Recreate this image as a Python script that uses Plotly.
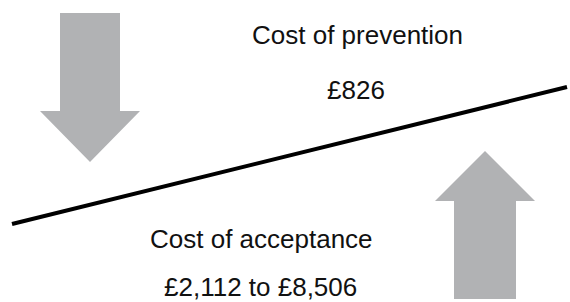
import plotly.graph_objects as go

# Diagram geometry (pixel-space coordinates, y downward)
down_arrow_x = [60, 120, 120, 140, 90, 40, 60, 60]
down_arrow_y = [13, 13, 111, 111, 162, 111, 111, 13]
up_arrow_x = [454, 516, 516, 535, 485, 435, 454, 454]
up_arrow_y = [299, 299, 201, 201, 151, 201, 201, 299]
balance_x = [12, 567]
balance_y = [224, 87]

labels = ["Cost of prevention", "£826", "Cost of acceptance", "£2,112 to £8,506"]
label_x = [357, 356, 261, 260]
label_y = [35, 90, 239, 287]

arrow_color = "#b1b2b4"

fig = go.Figure()
for xs, ys in [(down_arrow_x, down_arrow_y), (up_arrow_x, up_arrow_y)]:
    fig.add_trace(go.Scatter(x=xs, y=ys, mode="lines", fill="toself",
                             fillcolor=arrow_color, line=dict(width=0, color=arrow_color),
                             hoverinfo="skip", showlegend=False))
fig.add_trace(go.Scatter(x=balance_x, y=balance_y, mode="lines",
                         line=dict(color="black", width=4), hoverinfo="skip",
                         showlegend=False))
for t, x, y in zip(labels, label_x, label_y):
    fig.add_annotation(x=x, y=y, text=t, showarrow=False, xanchor="center",
                       yanchor="middle", font=dict(family="Liberation Sans, Arial", size=26, color="#111"))

fig.update_layout(width=570, height=302, margin=dict(l=0, r=0, t=0, b=0),
                  paper_bgcolor="white", plot_bgcolor="white",
                  xaxis=dict(range=[0, 570], visible=False, fixedrange=True),
                  yaxis=dict(range=[302, 0], visible=False, fixedrange=True))
fig.write_html("out.html", config={"displayModeBar": False},
               post_script="document.body.style.margin='0';document.body.style.overflow='hidden';")
